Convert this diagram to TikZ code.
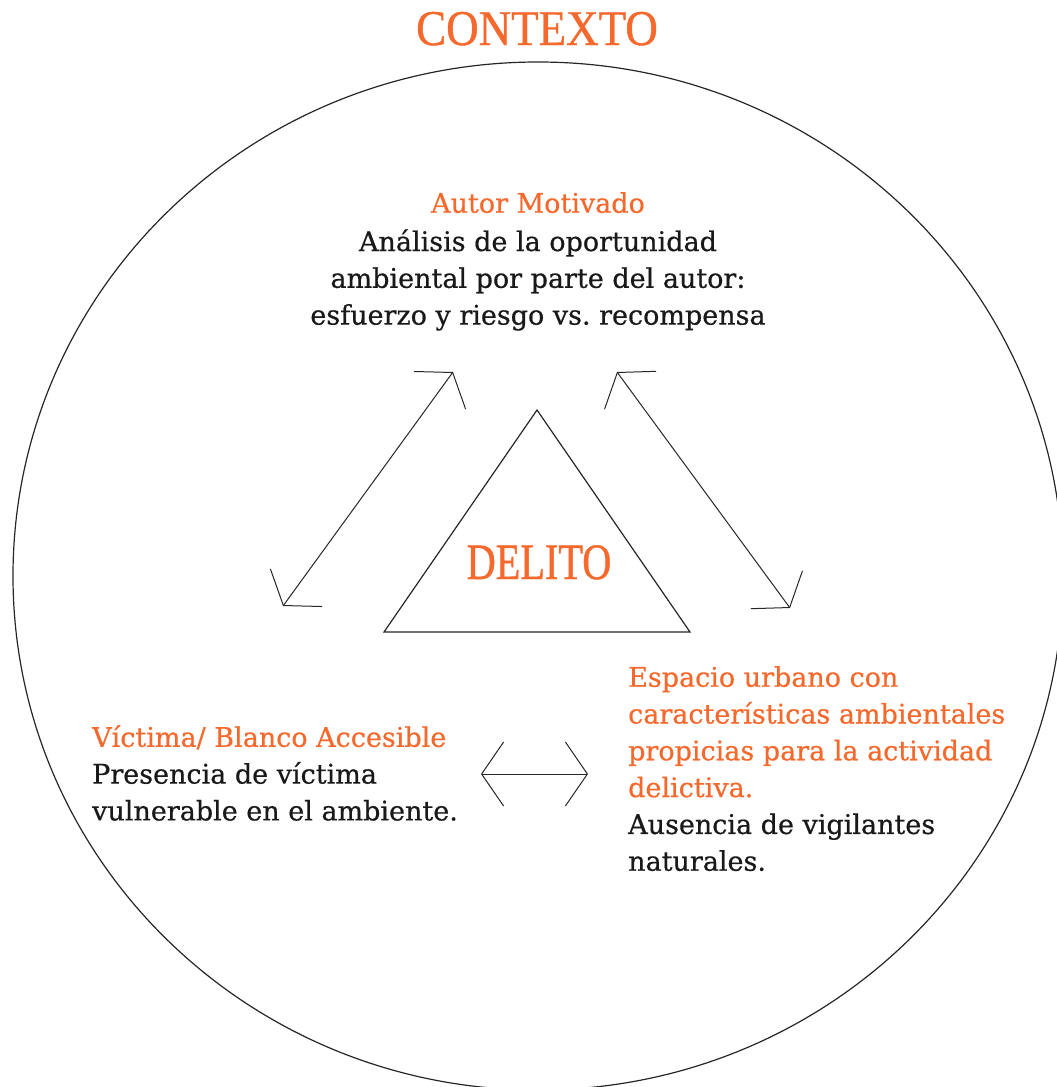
\documentclass[tikz,border=0pt]{standalone}
\usepackage{fontspec}
\setmainfont[FakeBold=0.6]{DejaVu Serif}
\newfontfamily\ctxfont[FakeStretch=0.9,FakeBold=0.8]{Liberation Serif}
\newfontfamily\delfont[FakeStretch=0.79,FakeBold=0.8]{Liberation Serif}
\usetikzlibrary{arrows.meta}
\definecolor{orng}{RGB}{245,105,45}
\definecolor{txt}{RGB}{25,25,25}
\frenchspacing
\begin{document}
\begin{tikzpicture}[x=1pt,y=-1pt,
  bodytext/.style={font=\fontsize{27}{36.8}\selectfont, text=txt, inner sep=0pt},
  title/.style={text=orng, inner sep=0pt},
  link/.style={line width=1pt, line join=miter, draw=black!85,
    {Straight Barb[length=22pt,width=64pt]}-{Straight Barb[length=22pt,width=64pt]}},
  frame/.style={line width=1.2pt, draw=black!85}]
\useasboundingbox (0,0) rectangle (1057,1087);
\clip (0,0) rectangle (1057,1087);
% context circle
\draw[frame] (538,576) ellipse [x radius=525, y radius=514];
\node[title, font=\fontsize{50}{50}\ctxfont, anchor=base] (contexto) at (537,45) {CONTEXTO};
% triangle
\coordinate (tA) at (537,410);
\coordinate (tB) at (384,632);
\coordinate (tC) at (690,632);
\draw[line width=1.2pt, draw=black!85, line join=miter] (tA) -- (tB) -- (tC) -- cycle;
\node[title, font=\fontsize{51}{51}\delfont, anchor=base] (delito) at (539,579) {DELITO};
% text blocks
\node[bodytext, align=center, anchor=north] (autor) at (538,192)
  {\textcolor{orng}{Autor Motivado}\\[1.5pt]Análisis de la oportunidad\\ambiental por parte del autor:\\esfuerzo y riesgo vs. recompensa};
\node[bodytext, align=left, anchor=north west] (victima) at (92,725)
  {\textcolor{orng}{Víctima/ Blanco Accesible}\\Presencia de víctima\\vulnerable en el ambiente.};
\node[bodytext, align=left, anchor=north west] (espacio) at (628,666)
  {\textcolor{orng}{Espacio urbano con}\\\textcolor{orng}{características ambientales}\\\textcolor{orng}{propicias para la actividad}\\\textcolor{orng}{delictiva.}\\Ausencia de vigilantes\\naturales.};
% connectors
\coordinate (l1) at (453,372);
\coordinate (l2) at (283,606);
\coordinate (r1) at (617,372);
\coordinate (r2) at (790,608);
\coordinate (h1) at (481,774);
\coordinate (h2) at (588,774);
\draw[link] (l1) -- (l2);
\draw[link] (r1) -- (r2);
\draw[link] (h1) -- (h2);
\end{tikzpicture}
\end{document}
